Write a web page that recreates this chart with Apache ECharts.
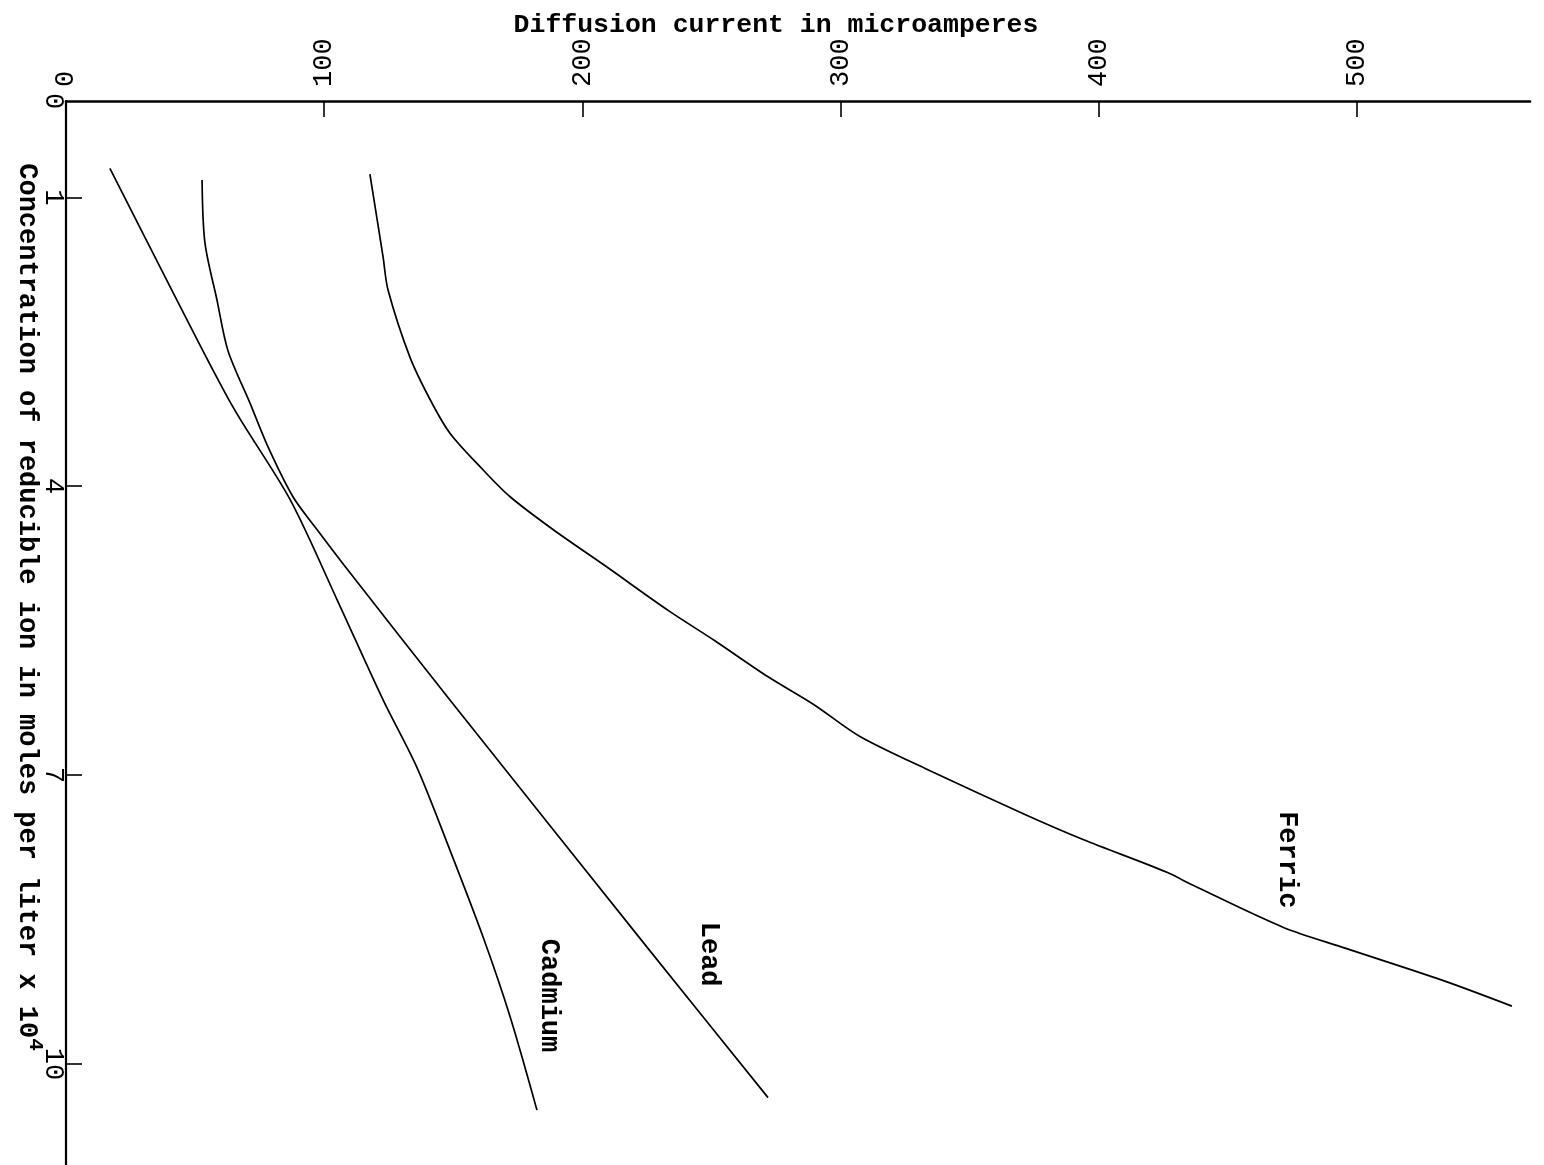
<!DOCTYPE html>
<html>
<head>
<meta charset="utf-8">
<script src="https://cdn.jsdelivr.net/npm/echarts@6/dist/echarts.min.js"></script>
<style>
html,body{margin:0;padding:0;background:#fff;}
#chart{width:1544px;height:1165px;}
</style>
</head>
<body>
<div id="chart"></div>
<script>
// Tick values
const currentTicks = [0, 100, 200, 300, 400, 500];
const concTicks = [1, 4, 7, 10];
const concLabels = [0, 1, 4, 7, 10];

// Series: [diffusion current (microamperes), concentration (moles/liter x 10^4)]
const ferric = [
  [117.7, 0.76], [122.8, 1.62], [124.7, 1.96], [133.2, 2.66], [141.0, 3.10],
  [148.7, 3.45], [161.5, 3.83], [172.0, 4.11], [188.6, 4.45], [209.5, 4.84],
  [233.2, 5.29], [251.0, 5.60], [271.9, 5.98], [289.7, 6.27], [307.5, 6.60],
  [334.2, 6.95], [371.4, 7.41], [393.9, 7.67], [426.4, 8.01], [436.1, 8.14],
  [471.3, 8.58], [495.7, 8.80], [532.9, 9.13], [560.0, 9.40]
];
const lead = [
  [52.7, 0.82], [53.8, 1.47], [58.5, 2.07], [62.7, 2.59], [71.3, 3.14],
  [78.2, 3.59], [87.9, 4.11], [97.2, 4.45], [110.0, 4.90], [148.7, 6.22],
  [225.4, 8.80], [271.9, 10.35]
];
const cadmium = [
  [17.0, 0.70], [43.0, 2.07], [64.7, 3.18], [86.8, 4.14], [105.0, 5.18],
  [122.8, 6.22], [135.9, 6.92], [148.7, 7.78], [161.5, 8.68], [172.0, 9.51],
  [182.4, 10.48]
];

const FONT = 'Liberation Mono';
const chart = echarts.init(document.getElementById('chart'), null, {renderer: 'canvas'});

function curve(name, data, labelCoord) {
  return {
    name: name,
    type: 'line',
    data: data,
    smooth: 0.3,
    showSymbol: false,
    symbol: 'none',
    lineStyle: {color: '#000', width: 1.7},
    z: 3,
    markPoint: {
      symbol: 'circle',
      symbolSize: 1,
      itemStyle: {color: 'rgba(0,0,0,0)'},
      label: {
        show: true,
        position: 'inside',
        rotate: -90,
        formatter: name,
        color: '#000',
        fontFamily: FONT,
        fontWeight: 'bold',
        fontSize: 27
      },
      data: [{coord: labelCoord}]
    }
  };
}

chart.setOption({
  animation: false,
  backgroundColor: '#fff',
  grid: {left: 66, top: 101, right: 14, bottom: 0, outerBoundsMode: 'none', containLabel: false},
  xAxis: {
    type: 'value',
    position: 'top',
    min: 0,
    max: 567,
    interval: 100,
    name: 'Diffusion current in microamperes',
    nameLocation: 'middle',
    nameGap: 62,
    nameMoveOverlap: false,
    nameTextStyle: {color: '#000', fontFamily: FONT, fontWeight: 'bold', fontSize: 26.5, padding: [0, 44, 0, 0]},
    axisLine: {show: true, onZero: false, lineStyle: {color: '#000', width: 2.6}},
    axisTick: {show: true, inside: true, length: 16, customValues: currentTicks.slice(1), lineStyle: {color: '#000', width: 1.6}},
    axisLabel: {
      show: true, rotate: -90, margin: 14, customValues: currentTicks,
      color: '#000', fontFamily: FONT, fontSize: 27
    },
    splitLine: {show: false}
  },
  yAxis: {
    type: 'value',
    inverse: true,
    min: 0,
    max: 11.05,
    name: 'Concentration of reducible ion in moles per liter x 10{sup|4}',
    nameLocation: 'middle',
    nameRotate: -90,
    nameGap: 20,
    nameMoveOverlap: false,
    nameTextStyle: {
      color: '#000', fontFamily: FONT, fontWeight: 'bold', fontSize: 27, padding: [0, 52, 0, 0],
      rich: {sup: {fontFamily: FONT, fontWeight: 'bold', fontSize: 21, verticalAlign: 'bottom', padding: [0, 0, 18, 0], color: '#000'}}
    },
    axisLine: {show: true, onZero: false, lineStyle: {color: '#000', width: 2.2}},
    axisTick: {show: true, inside: true, length: 16, customValues: concTicks, lineStyle: {color: '#000', width: 1.6}},
    axisLabel: {
      show: true, rotate: -90, margin: -1, customValues: concLabels,
      color: '#000', fontFamily: FONT, fontSize: 27
    },
    splitLine: {show: false}
  },
  series: [
    curve('Ferric', ferric, [473, 7.88]),
    curve('Lead', lead, [249, 8.86]),
    curve('Cadmium', cadmium, [187, 9.29])
  ]
});
</script>
</body>
</html>
